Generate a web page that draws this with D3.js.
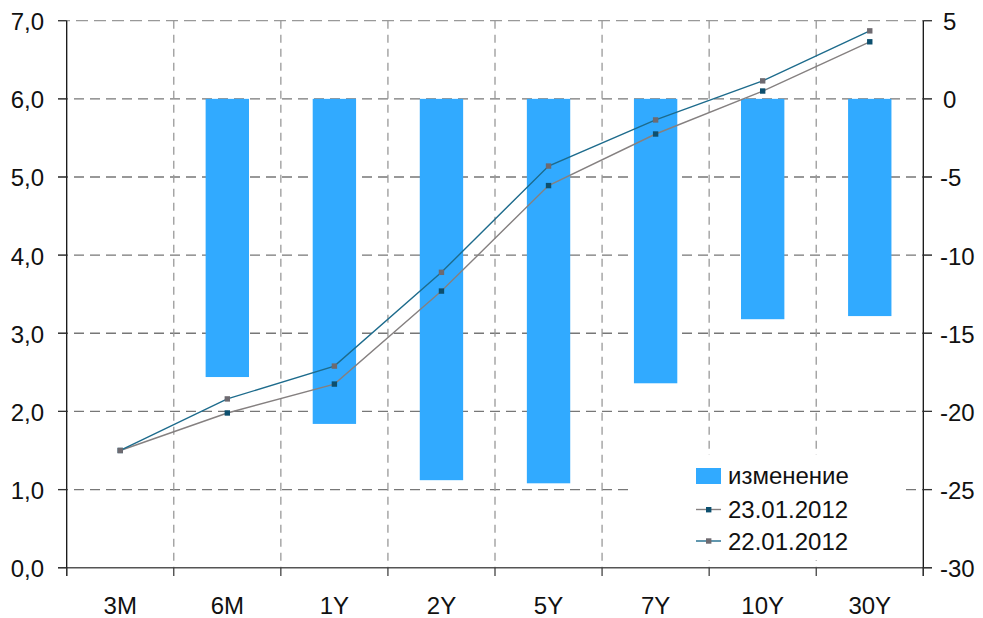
<!DOCTYPE html>
<html><head><meta charset="utf-8">
<script src="https://cdn.jsdelivr.net/npm/d3@7"></script>
<style>
body{margin:0;background:#fff;}
text{font-family:"Liberation Sans",Arial,sans-serif;font-size:24px;fill:#111;}
</style></head>
<body><svg id="c" width="983" height="618"></svg>
<script>
const categories = ["3M","6M","1Y","2Y","5Y","7Y","10Y","30Y"];
const change = [0, -17.8, -20.8, -24.4, -24.6, -18.2, -14.1, -13.9];
const rates0123 = [1.50, 1.98, 2.35, 3.54, 4.89, 5.55, 6.10, 6.73];
const rates0122 = [1.50, 2.16, 2.58, 3.78, 5.14, 5.73, 6.23, 6.87];
const leftTicks = [0,1,2,3,4,5,6,7];
const rightTicks = [5,0,-5,-10,-15,-20,-25,-30];
const seriesNames = ["изменение","23.01.2012","22.01.2012"];

const svg = d3.select("#c");
const L = 66.7, R = 923.3, T = 20.7, B = 567.7;
const x = d3.scaleBand().domain(categories).range([L, R]).paddingInner(0).paddingOuter(0);
const y = d3.scaleLinear().domain([0,7]).range([B, T]);
const y2 = d3.scaleLinear().domain([-30,5]).range([B, T]);
const fmt = d => d.toFixed(1).replace(".", ",");

// horizontal gridlines
svg.append("g").selectAll("line").data(leftTicks.filter(d=>d>0)).join("line")
  .attr("x1", 58).attr("x2", 932).attr("y1", d=>y(d)).attr("y2", d=>y(d))
  .attr("stroke", d => d===7 ? "#999" : "#777").attr("stroke-width",1.3)
  .attr("stroke-dasharray", d => d===7 ? "12,6" : "10,6");

// vertical gridlines at band boundaries
const bounds = categories.slice(1).map(c => x(c));
svg.append("g").selectAll("line").data(bounds).join("line")
  .attr("x1", d=>d).attr("x2", d=>d).attr("y1", T).attr("y2", B)
  .attr("stroke", "#999").attr("stroke-width",1.3).attr("stroke-dasharray","8,6");

// bars
const bw = x.bandwidth()*0.405;
svg.append("g").selectAll("rect").data(categories.map((c,i)=>({c,v:change[i]})).filter(d=>d.v!==0)).join("rect")
  .attr("x", d => x(d.c) + x.bandwidth()/2 - bw/2)
  .attr("width", bw)
  .attr("y", d => y2(Math.max(0,d.v)))
  .attr("height", d => Math.abs(y2(d.v)-y2(0)))
  .attr("fill", "#31aaff");

// legend background
svg.append("rect").attr("x",628).attr("y",455).attr("width",278).attr("height",105).attr("fill","#fff");

// axes lines
svg.append("line").attr("x1",58).attr("x2",932).attr("y1",B).attr("y2",B).attr("stroke","#555").attr("stroke-width",1.5);
svg.append("line").attr("x1",L).attr("x2",L).attr("y1",T).attr("y2",576).attr("stroke","#111").attr("stroke-width",1.3);
svg.append("line").attr("x1",R).attr("x2",R).attr("y1",T).attr("y2",576).attr("stroke","#111").attr("stroke-width",1.3);

// left ticks & labels
const gl = svg.append("g");
gl.selectAll("line").data(leftTicks).join("line")
  .attr("x1",58).attr("x2",L).attr("y1",d=>y(d)).attr("y2",d=>y(d)).attr("stroke","#333").attr("stroke-width",1.2);
gl.selectAll("text").data(leftTicks).join("text")
  .attr("x",44).attr("y",d=>y(d)+9.5).attr("text-anchor","end").text(fmt);

// right ticks & labels
const gr = svg.append("g");
gr.selectAll("line").data(rightTicks).join("line")
  .attr("x1",R).attr("x2",932).attr("y1",d=>y2(d)).attr("y2",d=>y2(d)).attr("stroke","#333").attr("stroke-width",1.2);
gr.selectAll("text").data(rightTicks).join("text")
  .attr("x",d=> d<0 ? 940 : 943).attr("y",d=>y2(d)+9.5).attr("text-anchor","start").text(d=>d<0?"-"+Math.abs(d):d);

// bottom ticks and labels
const edges = [L, ...bounds, R];
svg.append("g").selectAll("line").data(edges).join("line")
  .attr("x1",d=>d).attr("x2",d=>d).attr("y1",B).attr("y2",576).attr("stroke","#333").attr("stroke-width",1.2);
svg.append("g").selectAll("text").data(categories).join("text")
  .attr("x",d=>x(d)+x.bandwidth()/2).attr("y",614).attr("text-anchor","middle").text(d=>d);

// lines
const cx = c => x(c) + x.bandwidth()/2;
function drawSeries(vals, lineColor, markColor){
  const pts = categories.map((c,i)=>[cx(c), y(vals[i])]);
  svg.append("path").attr("d", d3.line()(pts)).attr("fill","none").attr("stroke",lineColor).attr("stroke-width",1.4);
  svg.append("g").selectAll("rect").data(pts).join("rect")
    .attr("x",d=>d[0]-2.7).attr("y",d=>d[1]-2.7).attr("width",5.4).attr("height",5.4).attr("fill",markColor);
}
drawSeries(rates0123, "#858080", "#0d4f6e");
drawSeries(rates0122, "#1d6b8c", "#6e6a70");

// legend
const lg = svg.append("g");
lg.append("rect").attr("x",696).attr("y",468).attr("width",25).attr("height",16).attr("fill","#31aaff");
lg.append("text").attr("x",728).attr("y",484).text(seriesNames[0]);
lg.append("line").attr("x1",696).attr("x2",721).attr("y1",509.5).attr("y2",509.5).attr("stroke","#858080").attr("stroke-width",1.4);
lg.append("rect").attr("x",706).attr("y",507).attr("width",5.4).attr("height",5.4).attr("fill","#0d4f6e");
lg.append("text").attr("x",728).attr("y",517.5).text(seriesNames[1]);
lg.append("line").attr("x1",696).attr("x2",721).attr("y1",541).attr("y2",541).attr("stroke","#1d6b8c").attr("stroke-width",1.4);
lg.append("rect").attr("x",706).attr("y",538.3).attr("width",5.4).attr("height",5.4).attr("fill","#6e6a70");
lg.append("text").attr("x",728).attr("y",550).text(seriesNames[2]);
</script></body></html>
